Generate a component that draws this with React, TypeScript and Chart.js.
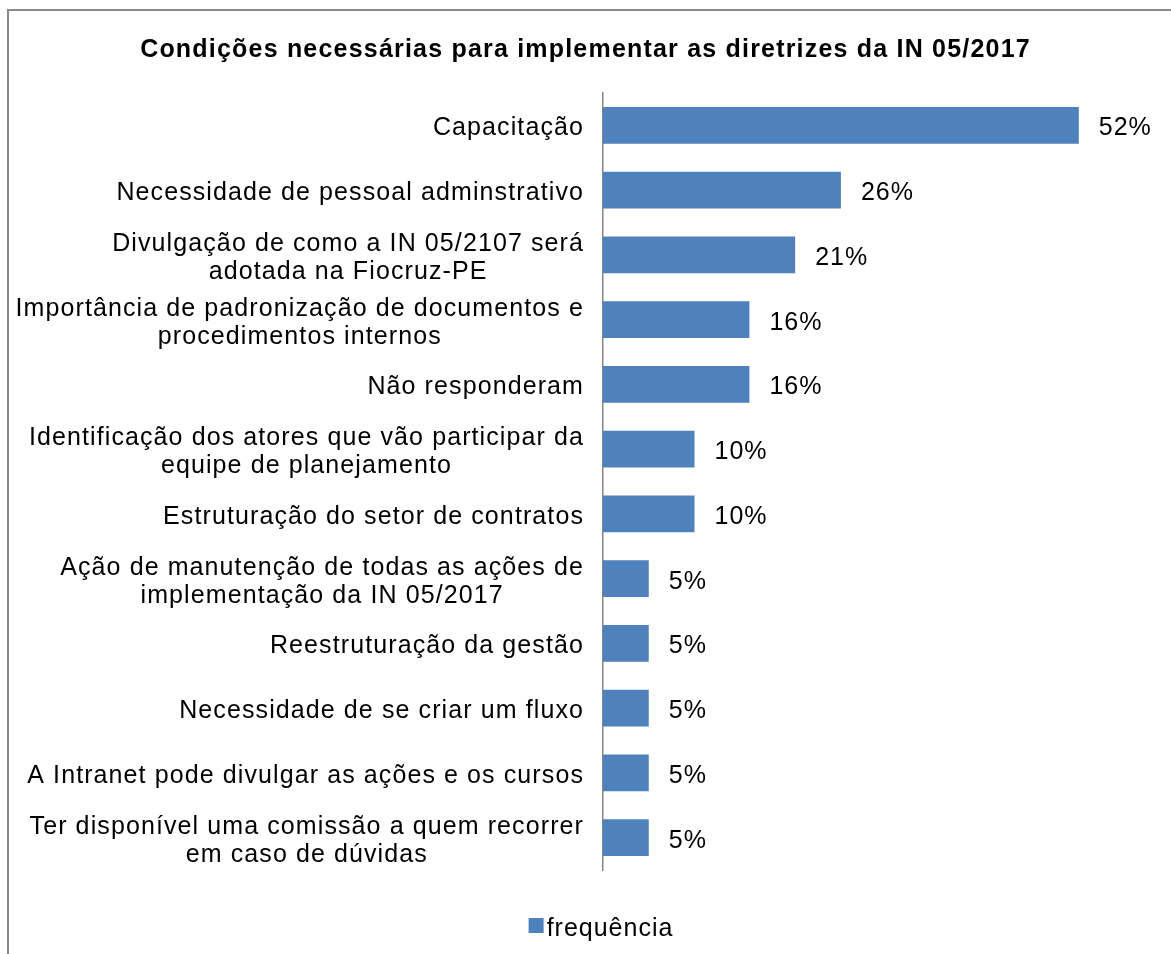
import React, { useEffect, useRef } from "react";
import { Chart, registerables } from "chart.js";

Chart.register(...registerables);

const TITLE = "Condições necessárias para implementar as diretrizes da IN 05/2017";

const CATEGORIES: (string | string[])[] = [
  "Capacitação",
  "Necessidade de pessoal adminstrativo",
  ["Divulgação de como a IN 05/2107 será", "adotada na Fiocruz-PE"],
  ["Importância de padronização de documentos e", "procedimentos internos"],
  "Não responderam",
  ["Identificação dos atores que vão participar da", "equipe de planejamento"],
  "Estruturação do setor de contratos",
  ["Ação de manutenção de todas as ações de", "implementação da IN 05/2017"],
  "Reestruturação da gestão",
  "Necessidade de se criar um fluxo",
  "A Intranet pode divulgar as ações e os cursos",
  ["Ter disponível uma comissão a quem recorrer", "em caso de dúvidas"],
];

const VALUES = [52, 26, 21, 16, 16, 10, 10, 5, 5, 5, 5, 5];
const SERIES_NAME = "frequência";
const X_MIN = 0;
const X_MAX = 60;

const FONT = '"Liberation Sans", Arial, sans-serif';
const BLUE = "#4F81BD";
const LINE_H = 28;
const LEGEND_CX = 601;
const DY = 3;

const textPlugin = {
  id: "excelText",
  afterDraw(chart: any) {
    const ctx: CanvasRenderingContext2D = chart.ctx;
    ctx.save();
    ctx.fillStyle = "#000";

    // title
    (ctx as any).letterSpacing = "1.2px";
    ctx.font = `bold 25px ${FONT}`;
    ctx.textAlign = "center";
    ctx.textBaseline = "middle";
    ctx.fillText(TITLE, chart.width / 2, 47 + DY);

    // category labels (each block right-aligned, lines centered within block)
    (ctx as any).letterSpacing = "1.1px";
    const yScale = chart.scales.y;
    ctx.font = `25px ${FONT}`;
    CATEGORIES.forEach((lab, i) => {
      const lines = Array.isArray(lab) ? lab : [lab];
      const w = Math.max(...lines.map((l) => ctx.measureText(l).width));
      const cx = yScale.right - 19 - w / 2;
      const cy = yScale.getPixelForValue(i) + DY;
      lines.forEach((l, j) => {
        ctx.fillText(l, cx, cy + (j - (lines.length - 1) / 2) * LINE_H);
      });
    });

    // data labels
    (ctx as any).letterSpacing = "1px";
    const meta = chart.getDatasetMeta(0);
    ctx.textAlign = "left";
    meta.data.forEach((bar: any, i: number) => {
      ctx.fillText(`${VALUES[i]}%`, bar.x + 20, bar.y + DY);
    });

    // legend
    const tw = ctx.measureText(SERIES_NAME).width;
    const total = 15 + 3 + tw;
    const sx = LEGEND_CX - total / 2;
    ctx.fillStyle = BLUE;
    ctx.fillRect(sx, 918, 15, 15);
    ctx.fillStyle = "#000";
    ctx.fillText(SERIES_NAME, sx + 18, 926 + DY);

    ctx.restore();
  },
};

export default function App() {
  const ref = useRef<HTMLCanvasElement | null>(null);

  useEffect(() => {
    if (!ref.current) return;
    const chart = new Chart(ref.current, {
      type: "bar",
      data: {
        labels: CATEGORIES as any,
        datasets: [
          {
            label: SERIES_NAME,
            data: VALUES,
            backgroundColor: BLUE,
            borderWidth: 0,
            categoryPercentage: 1,
            barPercentage: 0.571,
          },
        ],
      },
      options: {
        indexAxis: "y",
        responsive: false,
        animation: false,
        events: [],
        layout: { padding: { top: 93, bottom: 84, left: 0, right: 19 } },
        plugins: {
          legend: { display: false },
          title: { display: false },
          tooltip: { enabled: false },
        },
        scales: {
          x: {
            min: X_MIN,
            max: X_MAX,
            display: false,
          },
          y: {
            display: true,
            grid: { display: false, drawTicks: false },
            border: { display: true, color: "#868686", width: 1.5 },
            ticks: { display: false },
            afterFit: (scale: any) => {
              scale.width = 603;
            },
          },
        },
      },
      plugins: [textPlugin],
    });
    return () => chart.destroy();
  }, []);

  return (
    <>
      <div
        style={{
          position: "fixed",
          left: 7,
          top: 9,
          width: 1162,
          height: 943,
          borderLeft: "2px solid #898989",
          borderTop: "2px solid #898989",
        }}
      />
      <canvas
        ref={ref}
        width={1171}
        height={954}
        style={{ position: "fixed", left: 0, top: 0, width: 1171, height: 954 }}
      />
    </>
  );
}
